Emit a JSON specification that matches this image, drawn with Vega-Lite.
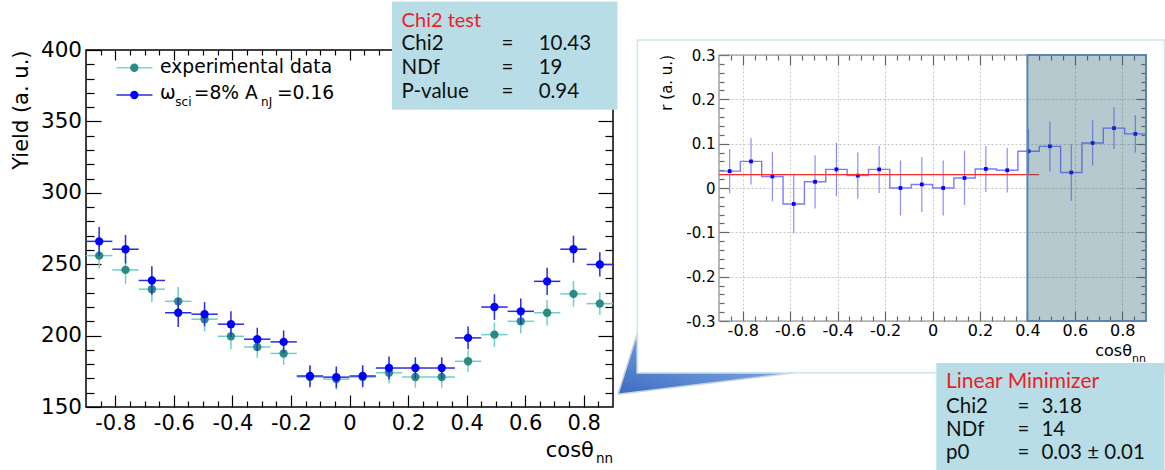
{
  "$schema": "https://vega.github.io/schema/vega-lite/v6.json",
  "background": "white",
  "padding": {"left": 9, "top": 0, "right": 0, "bottom": 0},
  "spacing": -5,
  "datasets": {
    "yield": [
      {"i": 1, "c": -0.855, "x0": -0.9, "x1": -0.81, "exp": 256, "elo": 247, "ehi": 265, "sim": 266, "slo": 256, "shi": 276},
      {"i": 2, "c": -0.765, "x0": -0.81, "x1": -0.72, "exp": 246, "elo": 236, "ehi": 256, "sim": 260.5, "slo": 250.5, "shi": 270.5},
      {"i": 3, "c": -0.675, "x0": -0.72, "x1": -0.63, "exp": 232.5, "elo": 223.5, "ehi": 241.5, "sim": 238.6, "slo": 228.6, "shi": 248.6},
      {"i": 4, "c": -0.585, "x0": -0.63, "x1": -0.54, "exp": 224, "elo": 214, "ehi": 234, "sim": 216, "slo": 206, "shi": 226},
      {"i": 5, "c": -0.495, "x0": -0.54, "x1": -0.45, "exp": 211.5, "elo": 203, "ehi": 220, "sim": 215, "slo": 206.5, "shi": 223.5},
      {"i": 6, "c": -0.405, "x0": -0.45, "x1": -0.36, "exp": 199.5, "elo": 190.5, "ehi": 208.5, "sim": 208, "slo": 199, "shi": 217},
      {"i": 7, "c": -0.315, "x0": -0.36, "x1": -0.27, "exp": 192, "elo": 184.5, "ehi": 199.5, "sim": 197.5, "slo": 189.5, "shi": 205.5},
      {"i": 8, "c": -0.225, "x0": -0.27, "x1": -0.18, "exp": 187.5, "elo": 179.5, "ehi": 195.5, "sim": 195.6, "slo": 187.6, "shi": 203.6},
      {"i": 9, "c": -0.135, "x0": -0.18, "x1": -0.09, "exp": 171, "elo": 163.5, "ehi": 178.5, "sim": 171.7, "slo": 164.2, "shi": 179.2},
      {"i": 10, "c": -0.045, "x0": -0.09, "x1": 0, "exp": 169.5, "elo": 162, "ehi": 177, "sim": 170.9, "slo": 163.4, "shi": 178.4},
      {"i": 11, "c": 0.045, "x0": 0, "x1": 0.09, "exp": 171, "elo": 163.5, "ehi": 178.5, "sim": 171.7, "slo": 164.2, "shi": 179.2},
      {"i": 12, "c": 0.135, "x0": 0.09, "x1": 0.18, "exp": 174, "elo": 166.5, "ehi": 181.5, "sim": 177.3, "slo": 169.3, "shi": 185.3},
      {"i": 13, "c": 0.225, "x0": 0.18, "x1": 0.27, "exp": 171, "elo": 163.5, "ehi": 178.5, "sim": 177.3, "slo": 169.8, "shi": 184.8},
      {"i": 14, "c": 0.315, "x0": 0.27, "x1": 0.36, "exp": 171, "elo": 163.5, "ehi": 178.5, "sim": 177.3, "slo": 169.8, "shi": 184.8},
      {"i": 15, "c": 0.405, "x0": 0.36, "x1": 0.45, "exp": 182, "elo": 174.5, "ehi": 189.5, "sim": 198.4, "slo": 190.4, "shi": 206.4},
      {"i": 16, "c": 0.495, "x0": 0.45, "x1": 0.54, "exp": 200.7, "elo": 192.2, "ehi": 209.2, "sim": 220, "slo": 211, "shi": 229},
      {"i": 17, "c": 0.585, "x0": 0.54, "x1": 0.63, "exp": 210, "elo": 201.5, "ehi": 218.5, "sim": 217, "slo": 208, "shi": 226},
      {"i": 18, "c": 0.675, "x0": 0.63, "x1": 0.72, "exp": 216, "elo": 207, "ehi": 225, "sim": 238, "slo": 228.5, "shi": 247.5},
      {"i": 19, "c": 0.765, "x0": 0.72, "x1": 0.81, "exp": 229.2, "elo": 220.2, "ehi": 238.2, "sim": 260.5, "slo": 251, "shi": 270},
      {"i": 20, "c": 0.855, "x0": 0.81, "x1": 0.9, "exp": 222.4, "elo": 214.4, "ehi": 230.4, "sim": 249.8, "slo": 241.3, "shi": 258.3}
    ],
    "ratio": [
      {"i": 1, "c": -0.855, "x0": -0.9, "x1": -0.81, "r": 0.038, "rlo": -0.012, "rhi": 0.088},
      {"i": 2, "c": -0.765, "x0": -0.81, "x1": -0.72, "r": 0.06, "rlo": 0.008, "rhi": 0.112},
      {"i": 3, "c": -0.675, "x0": -0.72, "x1": -0.63, "r": 0.026, "rlo": -0.03, "rhi": 0.082},
      {"i": 4, "c": -0.585, "x0": -0.63, "x1": -0.54, "r": -0.036, "rlo": -0.102, "rhi": 0.03},
      {"i": 5, "c": -0.495, "x0": -0.54, "x1": -0.45, "r": 0.014, "rlo": -0.046, "rhi": 0.074},
      {"i": 6, "c": -0.405, "x0": -0.45, "x1": -0.36, "r": 0.042, "rlo": -0.018, "rhi": 0.102},
      {"i": 7, "c": -0.315, "x0": -0.36, "x1": -0.27, "r": 0.028, "rlo": -0.024, "rhi": 0.08},
      {"i": 8, "c": -0.225, "x0": -0.27, "x1": -0.18, "r": 0.042, "rlo": -0.011, "rhi": 0.095},
      {"i": 9, "c": -0.135, "x0": -0.18, "x1": -0.09, "r": 0.0, "rlo": -0.062, "rhi": 0.062},
      {"i": 10, "c": -0.045, "x0": -0.09, "x1": 0, "r": 0.008, "rlo": -0.054, "rhi": 0.07},
      {"i": 11, "c": 0.045, "x0": 0, "x1": 0.09, "r": 0.0, "rlo": -0.062, "rhi": 0.062},
      {"i": 12, "c": 0.135, "x0": 0.09, "x1": 0.18, "r": 0.0226, "rlo": -0.038, "rhi": 0.084},
      {"i": 13, "c": 0.225, "x0": 0.18, "x1": 0.27, "r": 0.043, "rlo": -0.009, "rhi": 0.095},
      {"i": 14, "c": 0.315, "x0": 0.27, "x1": 0.36, "r": 0.04, "rlo": -0.01, "rhi": 0.09},
      {"i": 15, "c": 0.405, "x0": 0.36, "x1": 0.45, "r": 0.083, "rlo": 0.033, "rhi": 0.133},
      {"i": 16, "c": 0.495, "x0": 0.45, "x1": 0.54, "r": 0.094, "rlo": 0.038, "rhi": 0.15},
      {"i": 17, "c": 0.585, "x0": 0.54, "x1": 0.63, "r": 0.035, "rlo": -0.029, "rhi": 0.099},
      {"i": 18, "c": 0.675, "x0": 0.63, "x1": 0.72, "r": 0.1015, "rlo": 0.05, "rhi": 0.153},
      {"i": 19, "c": 0.765, "x0": 0.72, "x1": 0.81, "r": 0.135, "rlo": 0.088, "rhi": 0.182},
      {"i": 20, "c": 0.855, "x0": 0.81, "x1": 0.9, "r": 0.122, "rlo": 0.08, "rhi": 0.164}
    ],
    "callout": [
      {"k": 1, "x": -1.326, "y": -0.465},
      {"k": 2, "x": -1.244, "y": -0.327},
      {"k": 3, "x": -1.244, "y": -0.417},
      {"k": 4, "x": -0.582, "y": -0.417},
      {"k": 5, "x": -1.326, "y": -0.465}
    ]
  },
  "hconcat": [
    {
      "width": 527,
      "height": 357,
      "view": {"stroke": "#000", "strokeWidth": 1.5},
      "data": {"name": "yield"},
      "resolve": {"axis": {"x": "independent", "y": "independent"}},
      "layer": [
        {
          "mark": {"type": "rule", "color": "#6fd0c8", "strokeWidth": 1.5},
          "encoding": {
            "x": {"field": "c", "type": "quantitative", "scale": {"domain": [-0.9, 0.9], "nice": false, "zero": false},
              "axis": {"orient": "bottom", "values": [-0.8, -0.6, -0.4, -0.2, 0, 0.2, 0.4, 0.6, 0.8], "format": ".1~f", "labelExpr": "replace(datum.label, '−', '-')", "tickSize": -12, "labelPadding": 17, "labelFontSize": 21, "title": null}},
            "y": {"field": "elo", "type": "quantitative", "scale": {"domain": [150, 400], "nice": false, "zero": false},
              "axis": {"orient": "left", "values": [150, 200, 250, 300, 350, 400], "tickSize": -15, "labelPadding": 19.5, "labelFontSize": 21.5, "title": "Yield (a. u.)", "titleAnchor": "end", "titleFontSize": 21, "titlePadding": 9}},
            "y2": {"field": "ehi"}
          }
        },
        {
          "mark": {"type": "rule", "color": "#6fd0c8", "strokeWidth": 1.5},
          "encoding": {
            "x": {"field": "x0", "type": "quantitative",
              "axis": {"orient": "bottom", "values": [-0.85, -0.75, -0.7, -0.65, -0.55, -0.5, -0.45, -0.35, -0.3, -0.25, -0.15, -0.1, -0.05, 0.05, 0.1, 0.15, 0.25, 0.3, 0.35, 0.45, 0.5, 0.55, 0.65, 0.7, 0.75, 0.85], "tickSize": -6, "labels": false, "title": null}},
            "x2": {"field": "x1"},
            "y": {"field": "exp", "type": "quantitative",
              "axis": {"orient": "left", "values": [160, 170, 180, 190, 210, 220, 230, 240, 260, 270, 280, 290, 310, 320, 330, 340, 360, 370, 380, 390], "tickSize": -8, "labels": false, "title": null}}
          }
        },
        {
          "mark": {"type": "point", "shape": "circle", "filled": true, "color": "#2a8b86", "size": 70, "opacity": 1},
          "encoding": {
            "x": {"field": "c", "type": "quantitative",
              "axis": {"orient": "top", "values": [-0.8, -0.6, -0.4, -0.2, 0, 0.2, 0.4, 0.6, 0.8], "tickSize": -10, "labels": false, "title": null}},
            "y": {"field": "exp", "type": "quantitative",
              "axis": {"orient": "right", "values": [200, 250, 300, 350], "tickSize": -15, "labels": false, "title": null}}
          }
        },
        {
          "mark": {"type": "rule", "color": "#2b2bdf", "strokeWidth": 1.5},
          "encoding": {
            "x": {"field": "c", "type": "quantitative",
              "axis": {"orient": "top", "values": [-0.85, -0.75, -0.7, -0.65, -0.55, -0.5, -0.45, -0.35, -0.3, -0.25, -0.15, -0.1, -0.05, 0.05, 0.1, 0.15, 0.25, 0.3, 0.35, 0.45, 0.5, 0.55, 0.65, 0.7, 0.75, 0.85], "tickSize": -5, "labels": false, "title": null}},
            "y": {"field": "slo", "type": "quantitative",
              "axis": {"orient": "right", "values": [160, 170, 180, 190, 210, 220, 230, 240, 260, 270, 280, 290, 310, 320, 330, 340, 360, 370, 380, 390], "tickSize": -8, "labels": false, "title": null}},
            "y2": {"field": "shi"}
          }
        },
        {
          "mark": {"type": "rule", "color": "#2b2bdf", "strokeWidth": 1.5},
          "encoding": {
            "x": {"field": "x0", "type": "quantitative", "axis": null},
            "x2": {"field": "x1"},
            "y": {"field": "sim", "type": "quantitative", "axis": null}
          }
        },
        {
          "mark": {"type": "point", "shape": "circle", "filled": true, "color": "#0000ff", "size": 70, "opacity": 1},
          "encoding": {
            "x": {"field": "c", "type": "quantitative", "axis": null},
            "y": {"field": "sim", "type": "quantitative", "axis": null}
          }
        },
        {
          "data": {"values": [{}]},
          "mark": {"type": "text", "text": "cosθ", "font": "DejaVu Sans", "fontSize": 21, "align": "right", "baseline": "alphabetic", "color": "#000"},
          "encoding": {
            "x": {"datum": 0.835, "type": "quantitative", "axis": null},
            "y": {"datum": 114.96, "type": "quantitative", "axis": null}
          }
        },
        {
          "data": {"values": [{}]},
          "mark": {"type": "text", "text": "nn", "font": "DejaVu Sans", "fontSize": 13.5, "align": "right", "baseline": "alphabetic", "color": "#000"},
          "encoding": {
            "x": {"datum": 0.9, "type": "quantitative", "axis": null},
            "y": {"datum": 110.75, "type": "quantitative", "axis": null}
          }
        },
        {
          "data": {"values": [{}]},
          "mark": {"type": "rule", "color": "#7fd6cf", "strokeWidth": 1.5},
          "encoding": {
            "x": {"datum": -0.796, "type": "quantitative", "axis": null},
            "x2": {"datum": -0.673},
            "y": {"datum": 387.6, "type": "quantitative", "axis": null}
          }
        },
        {
          "data": {"values": [{}]},
          "mark": {"type": "point", "shape": "circle", "filled": true, "color": "#2a8b86", "size": 70, "opacity": 1},
          "encoding": {
            "x": {"datum": -0.735, "type": "quantitative", "axis": null},
            "y": {"datum": 387.6, "type": "quantitative", "axis": null}
          }
        },
        {
          "data": {"values": [{}]},
          "mark": {"type": "rule", "color": "#2b2bdf", "strokeWidth": 1.5},
          "encoding": {
            "x": {"datum": -0.796, "type": "quantitative", "axis": null},
            "x2": {"datum": -0.673},
            "y": {"datum": 368.5, "type": "quantitative", "axis": null}
          }
        },
        {
          "data": {"values": [{}]},
          "mark": {"type": "point", "shape": "circle", "filled": true, "color": "#0000ff", "size": 70, "opacity": 1},
          "encoding": {
            "x": {"datum": -0.735, "type": "quantitative", "axis": null},
            "y": {"datum": 368.5, "type": "quantitative", "axis": null}
          }
        },
        {
          "data": {"values": [{}]},
          "mark": {"type": "text", "text": "experimental data", "font": "DejaVu Sans", "fontSize": 18.7, "align": "left", "baseline": "alphabetic", "color": "#000"},
          "encoding": {
            "x": {"datum": -0.647, "type": "quantitative", "axis": null},
            "y": {"datum": 383.6, "type": "quantitative", "axis": null}
          }
        },
        {
          "data": {"values": [{}]},
          "mark": {"type": "text", "text": "ω", "font": "DejaVu Sans", "fontSize": 18.7, "align": "left", "baseline": "alphabetic", "color": "#000"},
          "encoding": {
            "x": {"datum": -0.647, "type": "quantitative", "axis": null},
            "y": {"datum": 365.4, "type": "quantitative", "axis": null}
          }
        },
        {
          "data": {"values": [{}]},
          "mark": {"type": "text", "text": "sci", "font": "DejaVu Sans", "fontSize": 12, "align": "left", "baseline": "alphabetic", "color": "#000"},
          "encoding": {
            "x": {"datum": -0.595, "type": "quantitative", "axis": null},
            "y": {"datum": 361, "type": "quantitative", "axis": null}
          }
        },
        {
          "data": {"values": [{}]},
          "mark": {"type": "text", "text": "=8% A", "font": "DejaVu Sans", "fontSize": 18.7, "align": "left", "baseline": "alphabetic", "color": "#000"},
          "encoding": {
            "x": {"datum": -0.532, "type": "quantitative", "axis": null},
            "y": {"datum": 365.4, "type": "quantitative", "axis": null}
          }
        },
        {
          "data": {"values": [{}]},
          "mark": {"type": "text", "text": "nJ", "font": "DejaVu Sans", "fontSize": 12, "align": "left", "baseline": "alphabetic", "color": "#000"},
          "encoding": {
            "x": {"datum": -0.302, "type": "quantitative", "axis": null},
            "y": {"datum": 361, "type": "quantitative", "axis": null}
          }
        },
        {
          "data": {"values": [{}]},
          "mark": {"type": "text", "text": "=0.16", "font": "DejaVu Sans", "fontSize": 18.7, "align": "left", "baseline": "alphabetic", "color": "#000"},
          "encoding": {
            "x": {"datum": -0.248, "type": "quantitative", "axis": null},
            "y": {"datum": 365.4, "type": "quantitative", "axis": null}
          }
        },
        {
          "data": {"values": [{}]},
          "mark": {"type": "rect", "color": "#b8dde7", "opacity": 1},
          "encoding": {
            "x": {"datum": 0.145, "type": "quantitative", "axis": null},
            "x2": {"datum": 0.915},
            "y": {"datum": 358.2, "type": "quantitative", "axis": null},
            "y2": {"datum": 433.9}
          }
        },
        {
          "data": {"values": [{}]},
          "mark": {"type": "text", "text": "Chi2 test", "font": "Lato", "fontSize": 20, "align": "left", "baseline": "alphabetic", "color": "#ee1c25"},
          "encoding": {
            "x": {"datum": 0.178, "type": "quantitative", "axis": null},
            "y": {"datum": 415.8, "type": "quantitative", "axis": null}
          }
        },
        {
          "data": {"values": [{}]},
          "mark": {"type": "text", "text": ["Chi2", "NDf", "P-value"], "lineHeight": 24, "font": "Lato", "fontSize": 20.5, "align": "left", "baseline": "alphabetic", "color": "#111"},
          "encoding": {
            "x": {"datum": 0.178, "type": "quantitative", "axis": null},
            "y": {"datum": 400, "type": "quantitative", "axis": null}
          }
        },
        {
          "data": {"values": [{}]},
          "mark": {"type": "text", "text": ["=", "=", "="], "lineHeight": 24, "font": "Lato", "fontSize": 20.5, "align": "left", "baseline": "alphabetic", "color": "#111"},
          "encoding": {
            "x": {"datum": 0.519, "type": "quantitative", "axis": null},
            "y": {"datum": 400, "type": "quantitative", "axis": null}
          }
        },
        {
          "data": {"values": [{}]},
          "mark": {"type": "text", "text": ["10.43", "19", "0.94"], "lineHeight": 24, "font": "Lato", "fontSize": 20.5, "align": "left", "baseline": "alphabetic", "color": "#111"},
          "encoding": {
            "x": {"datum": 0.646, "type": "quantitative", "axis": null},
            "y": {"datum": 400, "type": "quantitative", "axis": null}
          }
        }
      ]
    },
    {
      "width": 427,
      "height": 271,
      "view": {"stroke": null},
      "data": {"name": "ratio"},
      "resolve": {"axis": {"x": "independent", "y": "independent"}},
      "layer": [
        {
          "data": {"name": "callout"},
          "mark": {"type": "line", "filled": true, "fill": {"gradient": "linear", "x1": 0, "y1": 1, "x2": 1, "y2": 0, "stops": [{"offset": 0, "color": "#3b6cc2"}, {"offset": 1, "color": "#9fc2ee"}]}, "stroke": "#c9d3e0", "strokeWidth": 1.5, "interpolate": "linear"},
          "encoding": {
            "x": {"field": "x", "type": "quantitative",
              "axis": {"orient": "bottom", "values": [-0.8, -0.6, -0.4, -0.2, 0, 0.2, 0.4, 0.6, 0.8], "tickSize": -266, "tickColor": "#c8c8c8", "tickDash": [2, 2], "tickWidth": 1, "labels": false, "title": null}},
            "y": {"field": "y", "type": "quantitative", "axis": null},
            "order": {"field": "k"}
          }
        },
        {
          "data": {"values": [{}]},
          "mark": {"type": "rect", "filled": false, "stroke": "#cde6ec", "strokeWidth": 1.5},
          "encoding": {
            "x": {"datum": -1.244, "type": "quantitative", "axis": null},
            "x2": {"datum": 0.978},
            "y": {"datum": 0.334, "type": "quantitative", "axis": null},
            "y2": {"datum": -0.417}
          }
        },
        {
          "data": {"values": [{}]},
          "mark": {"type": "rect", "filled": false, "stroke": "#888", "strokeWidth": 1.2},
          "encoding": {
            "x": {"datum": -0.9, "type": "quantitative", "axis": null},
            "x2": {"datum": 0.9},
            "y": {"datum": -0.3, "type": "quantitative", "axis": null},
            "y2": {"datum": 0.3}
          }
        },
        {
          "mark": {"type": "rule", "color": "#8c8cff", "strokeWidth": 1.2},
          "encoding": {
            "x": {"field": "c", "type": "quantitative", "scale": {"domain": [-0.9, 0.9], "nice": false, "zero": false},
              "axis": {"orient": "bottom", "values": [-0.8, -0.6, -0.4, -0.2, 0, 0.2, 0.4, 0.6, 0.8], "format": ".1~f", "labelExpr": "replace(datum.label, '−', '-')", "tickSize": -10, "tickColor": "#666", "labelPadding": 11, "labelFontSize": 16, "title": null}},
            "y": {"field": "rlo", "type": "quantitative", "scale": {"domain": [-0.3, 0.31128], "nice": false, "zero": false},
              "axis": {"orient": "left", "values": [-0.3, -0.2, -0.1, 0, 0.1, 0.2, 0.3], "format": ".1~f", "labelExpr": "replace(datum.label, '−', '-')", "tickSize": -10, "tickColor": "#666", "labelPadding": 14, "labelFontSize": 15, "grid": true, "gridColor": "#c8c8c8", "gridDash": [2, 2], "title": null}},
            "y2": {"field": "rhi"}
          }
        },
        {
          "transform": [{"fold": ["x0", "x1"], "as": ["edge", "xe"]}],
          "mark": {"type": "line", "color": "#7b7bff", "strokeWidth": 1.4},
          "encoding": {
            "x": {"field": "xe", "type": "quantitative",
              "axis": {"orient": "bottom", "values": [-0.85, -0.75, -0.7, -0.65, -0.55, -0.5, -0.45, -0.35, -0.3, -0.25, -0.15, -0.1, -0.05, 0.05, 0.1, 0.15, 0.25, 0.3, 0.35, 0.45, 0.5, 0.55, 0.65, 0.7, 0.75, 0.85], "tickSize": -5, "tickColor": "#666", "labels": false, "title": null}},
            "y": {"field": "r", "type": "quantitative",
              "axis": {"orient": "left", "values": [-0.28, -0.26, -0.24, -0.22, -0.18, -0.16, -0.14, -0.12, -0.08, -0.06, -0.04, -0.02, 0.02, 0.04, 0.06, 0.08, 0.12, 0.14, 0.16, 0.18, 0.22, 0.24, 0.26, 0.28], "tickSize": -5, "tickColor": "#666", "labels": false, "title": null}},
            "order": [{"field": "i"}, {"field": "xe"}]
          }
        },
        {
          "mark": {"type": "point", "shape": "square", "filled": true, "color": "#0000ff", "size": 14, "opacity": 1},
          "encoding": {
            "x": {"field": "c", "type": "quantitative",
              "axis": {"orient": "top", "offset": -5, "values": [-0.8, -0.6, -0.4, -0.2, 0, 0.2, 0.4, 0.6, 0.8], "tickSize": -10, "tickColor": "#666", "labels": false, "title": null}},
            "y": {"field": "r", "type": "quantitative",
              "axis": {"orient": "right", "values": [-0.2, -0.1, 0, 0.1, 0.2], "tickSize": -10, "tickColor": "#666", "labels": false, "title": null}}
          }
        },
        {
          "data": {"values": [{}]},
          "mark": {"type": "rule", "color": "#ff2a2a", "strokeWidth": 1.3},
          "encoding": {
            "x": {"datum": -0.9, "type": "quantitative",
              "axis": {"orient": "top", "offset": -5, "values": [-0.85, -0.75, -0.7, -0.65, -0.55, -0.5, -0.45, -0.35, -0.3, -0.25, -0.15, -0.1, -0.05, 0.05, 0.1, 0.15, 0.25, 0.3, 0.35, 0.45, 0.5, 0.55, 0.65, 0.7, 0.75, 0.85], "tickSize": -5, "tickColor": "#666", "labels": false, "title": null}},
            "x2": {"datum": 0.45},
            "y": {"datum": 0.03, "type": "quantitative",
              "axis": {"orient": "right", "values": [-0.28, -0.26, -0.24, -0.22, -0.18, -0.16, -0.14, -0.12, -0.08, -0.06, -0.04, -0.02, 0.02, 0.04, 0.06, 0.08, 0.12, 0.14, 0.16, 0.18, 0.22, 0.24, 0.26, 0.28], "tickSize": -5, "tickColor": "#666", "labels": false, "title": null}}
          }
        },
        {
          "data": {"values": [{}]},
          "mark": {"type": "rect", "fill": "#2f6475", "fillOpacity": 0.35, "stroke": "#5b84b0", "strokeWidth": 2},
          "encoding": {
            "x": {"datum": 0.4, "type": "quantitative", "axis": null},
            "x2": {"datum": 0.9},
            "y": {"datum": -0.3, "type": "quantitative", "axis": null},
            "y2": {"datum": 0.3}
          }
        },
        {
          "data": {"values": [{}]},
          "mark": {"type": "text", "text": "r (a. u.)", "font": "DejaVu Sans", "fontSize": 15, "angle": 270, "align": "right", "baseline": "middle", "color": "#000"},
          "encoding": {
            "x": {"datum": -1.118, "type": "quantitative", "axis": null},
            "y": {"datum": 0.3, "type": "quantitative", "axis": null}
          }
        },
        {
          "data": {"values": [{}]},
          "mark": {"type": "text", "text": "cosθ", "font": "DejaVu Sans", "fontSize": 16, "align": "right", "baseline": "alphabetic", "color": "#000"},
          "encoding": {
            "x": {"datum": 0.841, "type": "quantitative", "axis": null},
            "y": {"datum": -0.379, "type": "quantitative", "axis": null}
          }
        },
        {
          "data": {"values": [{}]},
          "mark": {"type": "text", "text": "nn", "font": "DejaVu Sans", "fontSize": 11, "align": "right", "baseline": "alphabetic", "color": "#000"},
          "encoding": {
            "x": {"datum": 0.9, "type": "quantitative", "axis": null},
            "y": {"datum": -0.392, "type": "quantitative", "axis": null}
          }
        },
        {
          "data": {"values": [{}]},
          "mark": {"type": "rect", "color": "#b8dde7", "opacity": 1},
          "encoding": {
            "x": {"datum": 0.016, "type": "quantitative", "axis": null},
            "x2": {"datum": 0.978},
            "y": {"datum": -0.395, "type": "quantitative", "axis": null},
            "y2": {"datum": -0.643}
          }
        },
        {
          "data": {"values": [{}]},
          "mark": {"type": "text", "text": "Linear Minimizer", "font": "Lato", "fontSize": 21, "align": "left", "baseline": "alphabetic", "color": "#ee1c25"},
          "encoding": {
            "x": {"datum": 0.057, "type": "quantitative", "axis": null},
            "y": {"datum": -0.451, "type": "quantitative", "axis": null}
          }
        },
        {
          "data": {"values": [{}]},
          "mark": {"type": "text", "text": ["Chi2", "NDf", "p0"], "lineHeight": 23, "font": "Lato", "fontSize": 20.5, "align": "left", "baseline": "alphabetic", "color": "#111"},
          "encoding": {
            "x": {"datum": 0.057, "type": "quantitative", "axis": null},
            "y": {"datum": -0.508, "type": "quantitative", "axis": null}
          }
        },
        {
          "data": {"values": [{}]},
          "mark": {"type": "text", "text": ["=", "=", "="], "lineHeight": 23, "font": "Lato", "fontSize": 20.5, "align": "left", "baseline": "alphabetic", "color": "#111"},
          "encoding": {
            "x": {"datum": 0.358, "type": "quantitative", "axis": null},
            "y": {"datum": -0.508, "type": "quantitative", "axis": null}
          }
        },
        {
          "data": {"values": [{}]},
          "mark": {"type": "text", "text": ["3.18", "14", "0.03 ± 0.01"], "lineHeight": 23, "font": "Lato", "fontSize": 20.5, "align": "left", "baseline": "alphabetic", "color": "#111"},
          "encoding": {
            "x": {"datum": 0.459, "type": "quantitative", "axis": null},
            "y": {"datum": -0.508, "type": "quantitative", "axis": null}
          }
        }
      ]
    }
  ],
  "config": {
    "axis": {"labelFont": "DejaVu Sans", "titleFont": "DejaVu Sans", "titleFontWeight": "normal", "labelColor": "#000", "titleColor": "#000", "domain": false, "grid": false, "tickColor": "#000", "tickWidth": 1.2, "labelFlush": false, "labelOverlap": false}
  }
}
